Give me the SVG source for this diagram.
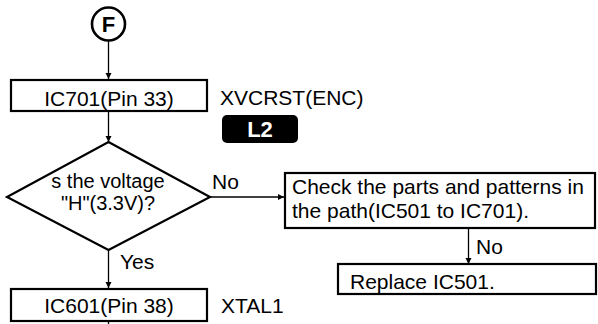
<svg xmlns="http://www.w3.org/2000/svg" width="598" height="324" viewBox="0 0 598 324">
<defs>
<marker id="arr" viewBox="0 0 10 10" refX="10" refY="5" markerWidth="6" markerHeight="7" markerUnits="userSpaceOnUse" orient="auto">
<path d="M0,0 L10,5 L0,10 z" fill="#000"/>
</marker>
</defs>
<style>
text{font-family:"Liberation Sans",Arial,Helvetica,sans-serif;font-size:21px;fill:#000}
.box{fill:#fff;stroke:#000;stroke-width:2.2}
.ln{fill:none;stroke:#000;stroke-width:1.3}
.c{text-anchor:middle}
.d{font-size:20px}
</style>
<rect width="598" height="324" fill="#fff"/>
<g id="connectors">
<line class="ln" x1="108.5" y1="41" x2="108.5" y2="79" marker-end="url(#arr)"/>
<line class="ln" x1="108.5" y1="111" x2="108.5" y2="142" marker-end="url(#arr)"/>
<line class="ln" x1="210" y1="197" x2="284" y2="197" marker-end="url(#arr)"/>
<line class="ln" x1="468.5" y1="229" x2="468.5" y2="264" marker-end="url(#arr)"/>
<line class="ln" x1="108.5" y1="250" x2="108.5" y2="288" marker-end="url(#arr)"/>
<line class="ln" x1="108.5" y1="321" x2="108.5" y2="324"/>
<text x="212" y="189">No</text>
<text x="476" y="254">No</text>
<text x="120" y="269">Yes</text>
</g>
<g id="start">
<circle cx="108.5" cy="24" r="16.5" fill="#fff" stroke="#000" stroke-width="2.6"/>
<text x="108.5" y="32" class="c" style="font-weight:bold;font-size:22px">F</text>
</g>
<g id="ic701">
<rect class="box" x="11" y="80" width="196" height="31"/>
<text x="109" y="106" class="c">IC701(Pin 33)</text>
<text x="220" y="105">XVCRST(ENC)</text>
</g>
<g id="l2">
<rect x="222" y="115" width="76" height="28" rx="5" fill="#000"/>
<text x="260" y="137" class="c" style="font-weight:bold;font-size:22px;fill:#fff">L2</text>
</g>
<g id="decision">
<polygon points="108.5,142 210,197 108.5,250 7,197" fill="#fff" stroke="#000" stroke-width="2.2"/>
<text x="108" y="187.5" class="c d">s the voltage</text>
<text x="108" y="209.5" class="c d">"H"(3.3V)?</text>
</g>
<g id="check">
<rect class="box" x="285" y="173" width="310" height="55"/>
<text x="292" y="194">Check the parts and patterns in</text>
<text x="292" y="218">the path(IC501 to IC701).</text>
</g>
<g id="replace">
<rect class="box" x="338" y="264" width="258" height="30"/>
<text x="350" y="289">Replace IC501.</text>
</g>
<g id="ic601">
<rect class="box" x="11" y="289" width="196" height="32"/>
<text x="109" y="313" class="c">IC601(Pin 38)</text>
<text x="221" y="313">XTAL1</text>
</g>
</svg>
